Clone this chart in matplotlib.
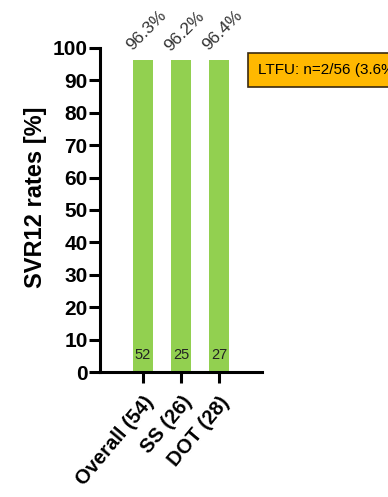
import matplotlib.pyplot as plt

# SVR12 outcome per group
groups = ['Overall (54)', 'SS (26)', 'DOT (28)']
svr_rates = [96.3, 96.2, 96.4]
n_cured = [52, 25, 27]
ltfu_note = 'LTFU: n=2/56 (3.6%)'

font = 'Liberation Sans'
bar_green = '#92D050'

fig = plt.figure(figsize=(3.88, 4.97), dpi=100)
ax = fig.add_axes([0.258, 0.2515, 0.417, 0.652])

pos = list(range(len(groups)))
ax.bar(pos, svr_rates, width=0.53, color=bar_green, zorder=2)

for x, rate, n in zip(pos, svr_rates, n_cured):
    ax.text(x, 3, str(n), ha='center', va='bottom', fontsize=10.5,
            family=font, color='#222222')
    ax.text(x - 0.22, rate + 2.0, f'{rate:.1f}%', ha='left', va='bottom',
            rotation=45, rotation_mode='anchor', fontsize=12.5,
            family=font, color='#333333', clip_on=False)

ax.set_xlim(-1.13, 3.13)
ax.set_ylim(0, 100)
ax.set_yticks(range(0, 101, 10))
ax.set_yticklabels([str(v) for v in range(0, 101, 10)], family=font,
                   fontweight='bold', fontsize=15)
ax.set_xticks(pos)
ax.set_xticklabels(groups, rotation=50, ha='right', rotation_mode='anchor',
                   family=font, fontweight='bold', fontsize=14.5)

for side in ['top', 'right']:
    ax.spines[side].set_visible(False)
for side in ['left', 'bottom']:
    ax.spines[side].set_linewidth(2.2)
ax.tick_params(axis='both', width=2.2, length=8, color='black')
ax.tick_params(axis='x', pad=7)
ax.tick_params(axis='y', pad=1)

ax.set_ylabel('SVR12 rates [%]', family=font, fontweight='bold', fontsize=17)
ax.yaxis.set_label_coords(-0.33, 0.54)

fig.text(0.665, 0.859, ltfu_note, ha='left', va='center', fontsize=11,
         family=font, color='black',
         bbox=dict(boxstyle='square,pad=0.65', facecolor='#FFB800',
                   edgecolor='#3a2a10', linewidth=1.2))

fig.savefig('out.png', dpi=100)
